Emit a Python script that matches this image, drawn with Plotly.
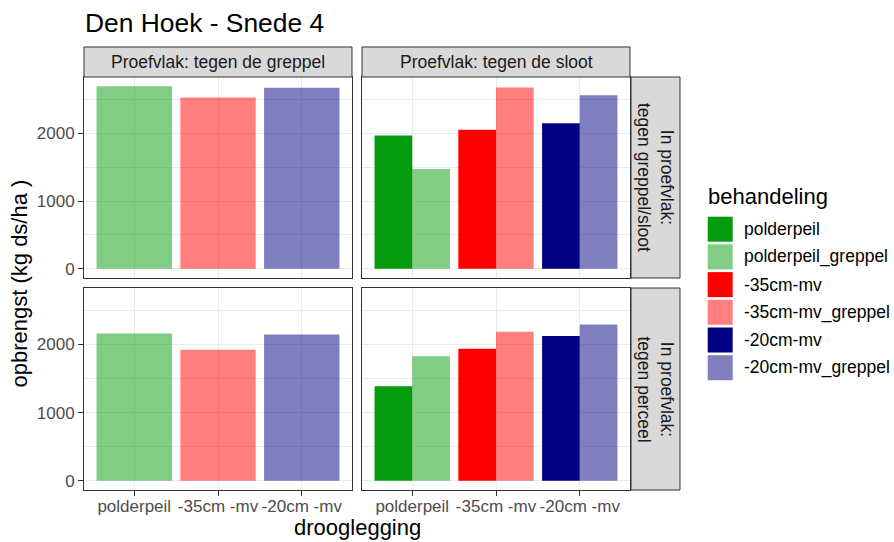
import plotly.graph_objects as go

# ---------------- data ----------------
drooglegging = ["polderpeil", "-35cm -mv", "-20cm -mv"]
behandeling = ["polderpeil", "polderpeil_greppel", "-35cm-mv",
               "-35cm-mv_greppel", "-20cm-mv", "-20cm-mv_greppel"]
kleuren = ["rgb(4,155,12)", "rgba(4,155,12,0.5)", "rgb(255,0,0)",
           "rgba(255,0,0,0.5)", "rgb(0,0,128)", "rgba(0,0,128,0.5)"]
kolommen = ["Proefvlak: tegen de greppel", "Proefvlak: tegen de sloot"]
rijen = ["In proefvlak:<br>tegen greppel/sloot", "In proefvlak:<br>tegen perceel"]

# yields (kg ds/ha) per panel: (without greppel, with greppel)
greppel_boven_greppel = [2694, 2528, 2669]
sloot_boven_zonder = [1966, 2050, 2148]
sloot_boven_greppel = [1474, 2675, 2558]
greppel_onder_greppel = [2162, 1924, 2148]
sloot_onder_zonder = [1387, 1938, 2123]
sloot_onder_greppel = [1826, 2187, 2294]

panels = {
    (0, 0): [None, greppel_boven_greppel],
    (0, 1): [sloot_boven_zonder, sloot_boven_greppel],
    (1, 0): [None, greppel_onder_greppel],
    (1, 1): [sloot_onder_zonder, sloot_onder_greppel],
}

# ---------------- layout geometry (pixels) ----------------
W, H = 894, 542
col_px = [(84, 352), (362, 630)]
row_px = [(77, 278), (288, 490)]
strip_top = 47
strip_right = (631, 680)

def fx(p):
    return p / W

def fy(p):
    return 1 - p / H

FONT = "Liberation Sans, Arial, sans-serif"
alle = [v for vals in panels.values() for s in vals if s for v in s]
ymax = max(alle)
yrange = [-0.05 * ymax, 1.05 * ymax]

fig = go.Figure()
axis_idx = {(0, 0): "", (0, 1): "2", (1, 0): "3", (1, 1): "4"}

for (r, c), (zonder, met) in panels.items():
    idx = axis_idx[(r, c)]
    for k, cat in enumerate(drooglegging):
        pos = k + 1
        if zonder is None:
            series = [(2 * k + 1, met[k], -0.45, 0.9)]
        else:
            series = [(2 * k, zonder[k], -0.45, 0.45),
                      (2 * k + 1, met[k], 0.0, 0.45)]
        for bi, val, off, wid in series:
            fig.add_trace(go.Bar(
                x=[pos], y=[val], width=[wid], offset=[off],
                marker=dict(color=kleuren[bi], line=dict(width=0)),
                name=behandeling[bi], showlegend=False,
                xaxis="x" + idx, yaxis="y" + idx,
                hovertemplate=f"{behandeling[bi]}: %{{y}}<extra></extra>",
            ))

layout = dict(
    width=W, height=H,
    margin=dict(l=0, r=0, t=0, b=0, autoexpand=False),
    paper_bgcolor="white", plot_bgcolor="white",
    barmode="overlay", showlegend=False,
    font=dict(family=FONT),
)

for (r, c), idx in axis_idx.items():
    x0, x1 = col_px[c]
    y0, y1 = row_px[r]
    xa = dict(
        domain=[fx(x0), fx(x1)], range=[0.4, 3.6],
        tickvals=[1, 2, 3], ticktext=drooglegging, tickangle=0,
        showgrid=True, gridcolor="#EBEBEB", gridwidth=1.4,
        zeroline=False, showline=True, mirror=True,
        linecolor="#333333", linewidth=1, automargin=False,
        anchor="y" + idx, fixedrange=True,
        tickfont=dict(size=17, color="#4D4D4D", family=FONT),
    )
    if r == 1:
        xa.update(ticks="outside", ticklen=5, tickcolor="#333333",
                  tickwidth=1, showticklabels=True, ticklabelstandoff=-4)
    else:
        xa.update(ticks="", showticklabels=False)
    ya = dict(
        domain=[fy(y1), fy(y0)], range=yrange,
        tickvals=[0, 1000, 2000],
        showgrid=True, gridcolor="#EBEBEB", gridwidth=1.4,
        minor=dict(tickvals=[500, 1500, 2500], showgrid=True,
                   gridcolor="#EBEBEB", gridwidth=0.7, ticks=""),
        zeroline=False, showline=True, mirror=True,
        linecolor="#333333", linewidth=1, automargin=False,
        anchor="x" + idx, fixedrange=True,
        tickfont=dict(size=17, color="#4D4D4D", family=FONT),
    )
    if c == 0:
        ya.update(ticks="outside", ticklen=5, tickcolor="#333333",
                  tickwidth=1, showticklabels=True)
    else:
        ya.update(ticks="", showticklabels=False)
    layout["xaxis" + idx] = xa
    layout["yaxis" + idx] = ya

shapes = []
annotations = []

# top strips
for c, label in enumerate(kolommen):
    x0, x1 = col_px[c]
    shapes.append(dict(type="rect", xref="paper", yref="paper",
                       x0=fx(x0), x1=fx(x1), y0=fy(row_px[0][0]), y1=fy(strip_top),
                       fillcolor="#D9D9D9", line=dict(color="#333333", width=1)))
    annotations.append(dict(text=label, xref="paper", yref="paper",
                            x=fx((x0 + x1) / 2), y=fy((strip_top + row_px[0][0]) / 2),
                            xanchor="center", yanchor="middle", showarrow=False,
                            font=dict(size=17.5, color="#1A1A1A", family=FONT)))
# right strips
for r, label in enumerate(rijen):
    y0, y1 = row_px[r]
    shapes.append(dict(type="rect", xref="paper", yref="paper",
                       x0=fx(strip_right[0]), x1=fx(strip_right[1]), y0=fy(y1), y1=fy(y0),
                       fillcolor="#D9D9D9", line=dict(color="#333333", width=1)))
    annotations.append(dict(text=label, xref="paper", yref="paper",
                            x=fx(sum(strip_right) / 2), y=fy((y0 + y1) / 2),
                            xanchor="center", yanchor="middle", showarrow=False,
                            textangle=90,
                            font=dict(size=17.5, color="#1A1A1A", family=FONT)))

# title
annotations.append(dict(text="Den Hoek - Snede 4", xref="paper", yref="paper",
                        x=fx(83), y=fy(23), xanchor="left", yanchor="middle",
                        showarrow=False, font=dict(size=26.4, color="black", family=FONT)))
# axis titles
annotations.append(dict(text="drooglegging", xref="paper", yref="paper",
                        x=fx((col_px[0][0] + col_px[1][1]) / 2), y=fy(527),
                        xanchor="center", yanchor="middle", showarrow=False,
                        font=dict(size=22, color="black", family=FONT)))
annotations.append(dict(text="opbrengst (kg ds/ha )", xref="paper", yref="paper",
                        x=fx(19), y=fy((row_px[0][0] + row_px[1][1]) / 2),
                        xanchor="center", yanchor="middle", showarrow=False,
                        textangle=-90,
                        font=dict(size=22, color="black", family=FONT)))

# legend
annotations.append(dict(text="behandeling", xref="paper", yref="paper",
                        x=fx(706), y=fy(196), xanchor="left", yanchor="middle",
                        showarrow=False, font=dict(size=22, color="black", family=FONT)))
key_top, key_size, key_pitch = 216.7, 25, 27.7
for i, (naam, kleur) in enumerate(zip(behandeling, kleuren)):
    t = key_top + i * key_pitch
    shapes.append(dict(type="rect", xref="paper", yref="paper",
                       x0=fx(707.7), x1=fx(707.7 + key_size), y0=fy(t + key_size), y1=fy(t),
                       fillcolor=kleur, line=dict(width=0)))
    annotations.append(dict(text=naam, xref="paper", yref="paper",
                            x=fx(742), y=fy(t + key_size / 2), xanchor="left", yanchor="middle",
                            showarrow=False,
                            font=dict(size=17.5, color="black", family=FONT)))

layout["shapes"] = shapes
layout["annotations"] = annotations
fig.update_layout(**layout)
fig.write_html("out.html", config={"displayModeBar": False},
               post_script="document.body.style.margin='0';document.body.style.padding='0';")
